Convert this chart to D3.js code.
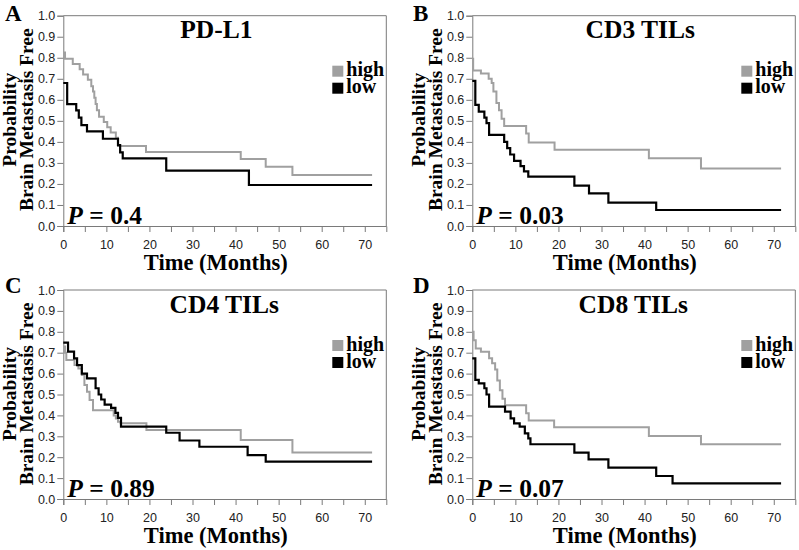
<!DOCTYPE html>
<html><head><meta charset="utf-8">
<script src="https://cdn.jsdelivr.net/npm/d3@7"></script>
<style>body{margin:0;background:#fff}svg{display:block}</style>
</head><body><svg id="c" width="799" height="550"></svg>
<script>
// ---- data ----
const panelLetters = ["A", "B", "C", "D"];
const panelTitles = ["PD-L1", "CD3 TILs", "CD4 TILs", "CD8 TILs"];
const pValues = ["0.4", "0.03", "0.89", "0.07"];
const seriesNames = ["high", "low"];
const yTicks = [0, 0.1, 0.2, 0.3, 0.4, 0.5, 0.6, 0.7, 0.8, 0.9, 1.0];
const xTicks = [0, 5, 10, 15, 20, 25, 30, 35, 40, 45, 50, 55, 60, 65, 70];
const xTickLabels = [0, 10, 20, 30, 40, 50, 60, 70];
const followUpEnd = 71.7;

const pdl1HighTime = [0, 0.4, 2.2, 3.8, 4.6, 5.7, 6.5, 6.9, 7.2, 7.5, 7.8, 8.3, 9.4, 10.2, 11, 12.2, 12.7, 19.2, 41.2, 47, 53.2];
const pdl1HighSurv = [0.825, 0.795, 0.77, 0.745, 0.72, 0.695, 0.665, 0.64, 0.61, 0.58, 0.55, 0.52, 0.495, 0.47, 0.445, 0.42, 0.38, 0.352, 0.319, 0.282, 0.243];
const pdl1LowTime = [0, 0.9, 3.0, 3.6, 4.2, 5.5, 9.2, 12.7, 13.2, 13.8, 23.9, 43.1];
const pdl1LowSurv = [0.68, 0.58, 0.55, 0.515, 0.48, 0.45, 0.415, 0.385, 0.35, 0.322, 0.263, 0.195];

const cd3HighTime = [0, 0.2, 2.0, 3.8, 4.5, 4.9, 5.6, 6.2, 6.8, 7.4, 12.5, 13.1, 19.1, 41.0, 53.1];
const cd3HighSurv = [0.795, 0.74, 0.725, 0.70, 0.68, 0.64, 0.585, 0.55, 0.51, 0.475, 0.44, 0.397, 0.362, 0.322, 0.274];
const cd3LowTime = [0, 0.7, 1.5, 2.8, 3.3, 3.9, 7.4, 8.1, 8.8, 9.7, 11.2, 12.0, 13.0, 23.7, 27.1, 31.6, 42.7];
const cd3LowSurv = [0.69, 0.576, 0.544, 0.515, 0.489, 0.433, 0.40, 0.37, 0.34, 0.31, 0.285, 0.26, 0.235, 0.192, 0.155, 0.111, 0.076];

const cd4HighTime = [0, 0.4, 0.7, 2.6, 3.5, 4.3, 4.9, 5.5, 6.1, 6.9, 11.7, 12.2, 12.7, 13.3, 19.3, 41.2, 53.2];
const cd4HighSurv = [0.73, 0.70, 0.665, 0.641, 0.625, 0.593, 0.545, 0.513, 0.474, 0.425, 0.40, 0.385, 0.37, 0.362, 0.33, 0.282, 0.222];
const cd4LowTime = [0, 1.1, 2.5, 3.2, 4.3, 5.5, 7.5, 8.2, 8.8, 9.6, 11.1, 12.1, 12.7, 13.4, 23.9, 27.0, 31.6, 42.8, 47.0];
const cd4LowSurv = [0.748, 0.705, 0.673, 0.641, 0.60, 0.577, 0.53, 0.50, 0.476, 0.452, 0.436, 0.412, 0.388, 0.346, 0.317, 0.28, 0.25, 0.21, 0.179];

const cd8HighTime = [0, 0.3, 0.8, 2.0, 3.9, 4.6, 5.3, 5.8, 6.4, 7.0, 7.6, 12.5, 13.1, 19.0, 41.0, 53.1];
const cd8HighSurv = [0.80, 0.76, 0.72, 0.705, 0.673, 0.65, 0.62, 0.567, 0.52, 0.48, 0.448, 0.41, 0.376, 0.343, 0.301, 0.262];
const cd8LowTime = [0, 0.7, 1.5, 2.8, 3.3, 3.9, 7.6, 8.9, 9.7, 11.0, 12.2, 13.0, 13.5, 23.7, 27.0, 31.6, 42.7, 46.5];
const cd8LowSurv = [0.673, 0.57, 0.553, 0.53, 0.50, 0.442, 0.418, 0.386, 0.362, 0.346, 0.314, 0.29, 0.262, 0.222, 0.19, 0.15, 0.11, 0.075];

const highTimes = [pdl1HighTime, cd3HighTime, cd4HighTime, cd8HighTime];
const highSurvs = [pdl1HighSurv, cd3HighSurv, cd4HighSurv, cd8HighSurv];
const lowTimes = [pdl1LowTime, cd3LowTime, cd4LowTime, cd8LowTime];
const lowSurvs = [pdl1LowSurv, cd3LowSurv, cd4LowSurv, cd8LowSurv];

// ---- layout ----
const layout = [
  {left: 63.3, top: 15.7, bottom: 226, lx: 5, ly: 21, tx: 153},
  {left: 472.3, top: 15.7, bottom: 226, lx: 413, ly: 21, tx: 168},
  {left: 63.3, top: 290, bottom: 499, lx: 5, ly: 293, tx: 161},
  {left: 472.3, top: 290, bottom: 499, lx: 413, ly: 293, tx: 161}
];
const plotW = 323;
const GRAY = "#a0a0a0", AXIS = "#7a7a7a";
const SERIF = "'Liberation Serif','Times New Roman',Times,serif";
const SANS = "'Liberation Sans',Arial,Helvetica,sans-serif";

const svg = d3.select("#c");

layout.forEach((L, i) => {
  const g = svg.append("g");
  const x = d3.scaleLinear().domain([0, 75]).range([L.left, L.left + plotW]);
  const y = d3.scaleLinear().domain([0, 1]).range([L.bottom, L.top]);

  // frame (top/right)
  g.append("line").attr("x1", x(0)).attr("x2", x(75)).attr("y1", y(1)).attr("y2", y(1))
    .attr("stroke", AXIS).attr("stroke-width", 1);
  g.append("line").attr("x1", x(75)).attr("x2", x(75)).attr("y1", y(1)).attr("y2", y(0))
    .attr("stroke", AXIS).attr("stroke-width", 1);

  // axes
  const ya = g.append("g").attr("transform", `translate(${x(0)},0)`)
    .call(d3.axisLeft(y).tickValues(yTicks).tickFormat(d3.format(".1f")).tickSize(6).tickPadding(2));
  const xa = g.append("g").attr("transform", `translate(0,${y(0)})`)
    .call(d3.axisBottom(x).tickValues(xTicks)
      .tickFormat(d => xTickLabels.includes(d) ? d : "").tickSize(6).tickPadding(8));
  [ya, xa].forEach(a => {
    a.select(".domain").attr("stroke", AXIS).attr("stroke-width", 1);
    a.selectAll(".tick line").attr("stroke", AXIS);
    a.selectAll(".tick text").attr("fill", "#222").style("font-family", SANS).style("font-size", "12.5px");
  });

  // curves
  const line = d3.line().x(d => x(d[0])).y(d => y(d[1])).curve(d3.curveStepAfter);
  const mk = (ts, ss) => ts.map((t, k) => [t, ss[k]]).concat([[followUpEnd, ss[ss.length - 1]]]);
  g.append("path").datum(mk(highTimes[i], highSurvs[i])).attr("d", line)
    .attr("fill", "none").attr("stroke", GRAY).attr("stroke-width", 2);
  g.append("path").datum(mk(lowTimes[i], lowSurvs[i])).attr("d", line)
    .attr("fill", "none").attr("stroke", "#000").attr("stroke-width", 2.2);

  // panel letter
  g.append("text").attr("x", L.lx).attr("y", L.ly).text(panelLetters[i])
    .style("font-family", SERIF).style("font-weight", "bold").style("font-size", "23px");
  // title
  g.append("text").attr("x", L.left + L.tx).attr("y", L.top + 22.5).attr("text-anchor", "middle")
    .text(panelTitles[i]).style("font-family", SERIF).style("font-weight", "bold").style("font-size", "25.5px");

  // legend
  const colors = [GRAY, "#000"];
  seriesNames.forEach((n, k) => {
    g.append("rect").attr("x", L.left + 269).attr("y", L.top + 50 + k * 17).attr("width", 11).attr("height", 11)
      .attr("fill", colors[k]);
    g.append("text").attr("x", L.left + 283).attr("y", L.top + 60.5 + k * 17).text(n)
      .style("font-family", SERIF).style("font-weight", "bold").style("font-size", "20px");
  });

  // y title
  const cy = L.top + 104;
  g.append("text").attr("transform", `translate(${L.left - 47.5},${cy}) rotate(-90)`)
    .attr("text-anchor", "middle").text("Probability")
    .style("font-family", SERIF).style("font-weight", "bold").style("font-size", "19.5px");
  g.append("text").attr("transform", `translate(${L.left - 30},${cy}) rotate(-90)`)
    .attr("text-anchor", "middle").text("Brain Metastasis Free")
    .style("font-family", SERIF).style("font-weight", "bold").style("font-size", "19.5px");

  // x title
  g.append("text").attr("x", (x(0) + x(75)) / 2 - 9).attr("y", L.bottom + 44).attr("text-anchor", "middle")
    .text("Time (Months)").style("font-family", SERIF).style("font-weight", "bold").style("font-size", "22.5px");

  // p value
  const pt = g.append("text").attr("x", L.left + 4).attr("y", L.bottom - 2)
    .style("font-family", SERIF).style("font-weight", "bold").style("font-size", "25.5px");
  pt.append("tspan").style("font-style", "italic").text("P");
  pt.append("tspan").text(" = " + pValues[i]);
});
</script></body></html>
